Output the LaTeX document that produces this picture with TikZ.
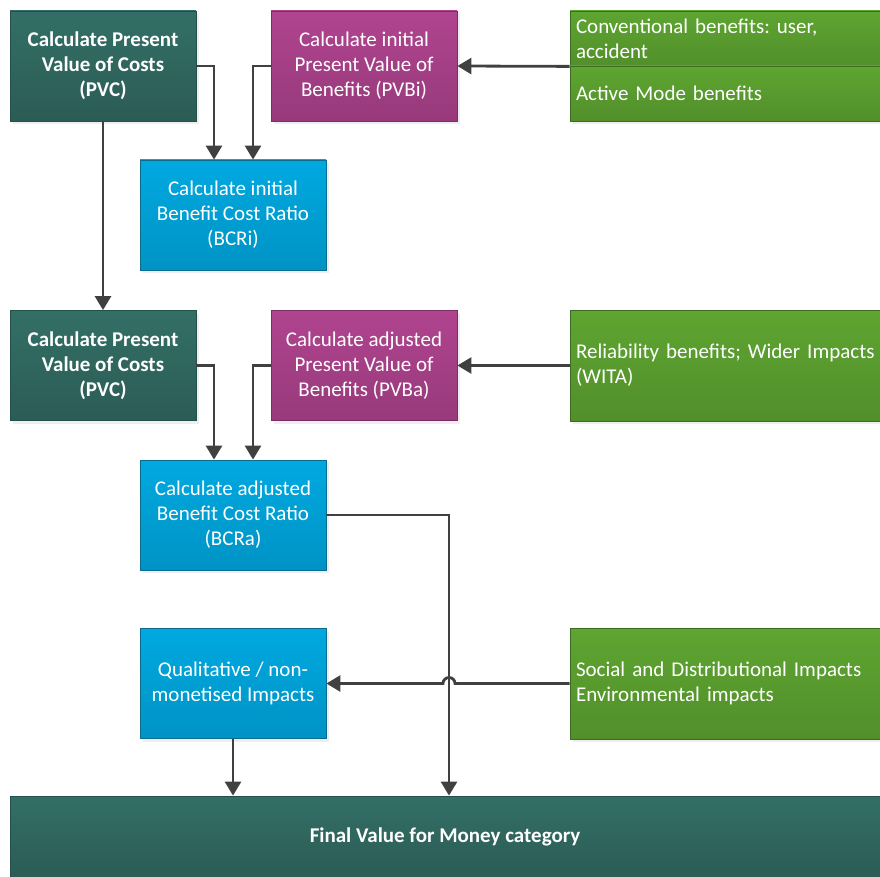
\documentclass[tikz,border=0pt]{standalone}
\usepackage{fontspec}
\setmainfont{Carlito}
\usetikzlibrary{arrows.meta,shadows}
\hyphenpenalty=10000
\exhyphenpenalty=10000
\frenchspacing
\definecolor{tealT}{HTML}{336F66}
\definecolor{tealB}{HTML}{2B5C55}
\definecolor{tealD}{HTML}{24504A}
\definecolor{magT}{HTML}{B0448F}
\definecolor{magB}{HTML}{973A7B}
\definecolor{magD}{HTML}{7A2E63}
\definecolor{bluT}{HTML}{00A9E0}
\definecolor{bluB}{HTML}{0093C5}
\definecolor{bluD}{HTML}{0A6D8F}
\definecolor{grnT}{HTML}{5EA531}
\definecolor{grnB}{HTML}{528F2B}
\definecolor{grnD}{HTML}{3D6B22}
\definecolor{conn}{HTML}{404040}
\begin{document}
\begin{tikzpicture}[x=1pt,y=-1pt,
  base/.style={draw, line width=0.8pt, inner sep=0pt, text=white, align=center,
    font=\fontsize{21}{25}\selectfont,
    drop shadow={shadow xshift=3pt, shadow yshift=-3pt, fill=black!13}},
  calcbox/.style={base, minimum width=186pt, minimum height=110pt},
  tealbox/.style={calcbox, top color=tealT, bottom color=tealB, draw=tealD, font=\fontsize{21}{25}\selectfont\bfseries},
  magbox/.style={calcbox, top color=magT, bottom color=magB, draw=magD},
  blubox/.style={calcbox, top color=bluT, bottom color=bluB, draw=bluD},
  grnbox/.style={base, top color=grnT, bottom color=grnB, draw=grnD, align=left, text width=304pt, inner xsep=6pt},
  conn/.style={draw=conn, line width=2.8pt},
  arr/.style={conn, -{Triangle[width=16pt,length=14pt]}}
]
\useasboundingbox (0,0) rectangle (880,877);
\node[tealbox] (pvc1) at (103,66) {Calculate Present\\Value of Costs\\(PVC)};
\node[magbox] (pvbi) at (364,66) {Calculate initial\\Present Value of\\Benefits (PVBi)};
\node[grnbox, minimum height=55pt] (gA) at (728,38.5) {Conventional benefits: user,\\accident};
\node[grnbox, minimum height=55pt] (gB) at (728,93.5) {Active Mode benefits};
\node[blubox] (bcri) at (233,215) {Calculate initial\\Benefit Cost Ratio\\(BCRi)};
\node[tealbox] (pvc2) at (103,365.5) {Calculate Present\\Value of Costs\\(PVC)};
\node[magbox] (pvba) at (364,365.5) {Calculate adjusted\\Present Value of\\Benefits (PVBa)};
\node[grnbox, minimum height=111pt] (g2) at (728,365.5) {Reliability benefits; Wider Impacts\\(WITA)};
\node[blubox] (bcra) at (233,515) {Calculate adjusted\\Benefit Cost Ratio\\(BCRa)};
\node[blubox] (qual) at (233,683.5) {Qualitative / non-\\monetised Impacts};
\node[grnbox, minimum height=111pt] (g3) at (728,683.5) {Social and Distributional Impacts\\Environmental impacts};
\node[base, top color=tealT, bottom color=tealB, draw=tealD, minimum width=870pt, minimum height=81pt, font=\fontsize{21}{25}\selectfont\bfseries] (final) at (445,836.5) {Final Value for Money category};

\draw[arr] (pvc1.east) -| ([xshift=-19pt]bcri.north);
\draw[arr] (pvbi.west) -| ([xshift=20pt]bcri.north);
\draw[arr] (gA.south west) -- (pvbi.east);
\draw[arr] (pvc1.south) -- (pvc2.north);
\draw[arr] (pvc2.east) -| ([xshift=-19pt]bcra.north);
\draw[arr] (pvba.west) -| ([xshift=20pt]bcra.north);
\draw[arr] (g2.west) -- (pvba.east);
\draw[arr] (bcra.east) -| ([xshift=4pt]final.north);
\draw[arr] (g3.west) -- (455,683.5) arc (0:-180:6) -- (qual.east);
\draw[arr] (qual.south) -- (qual.south |- final.north);
\end{tikzpicture}
\end{document}
